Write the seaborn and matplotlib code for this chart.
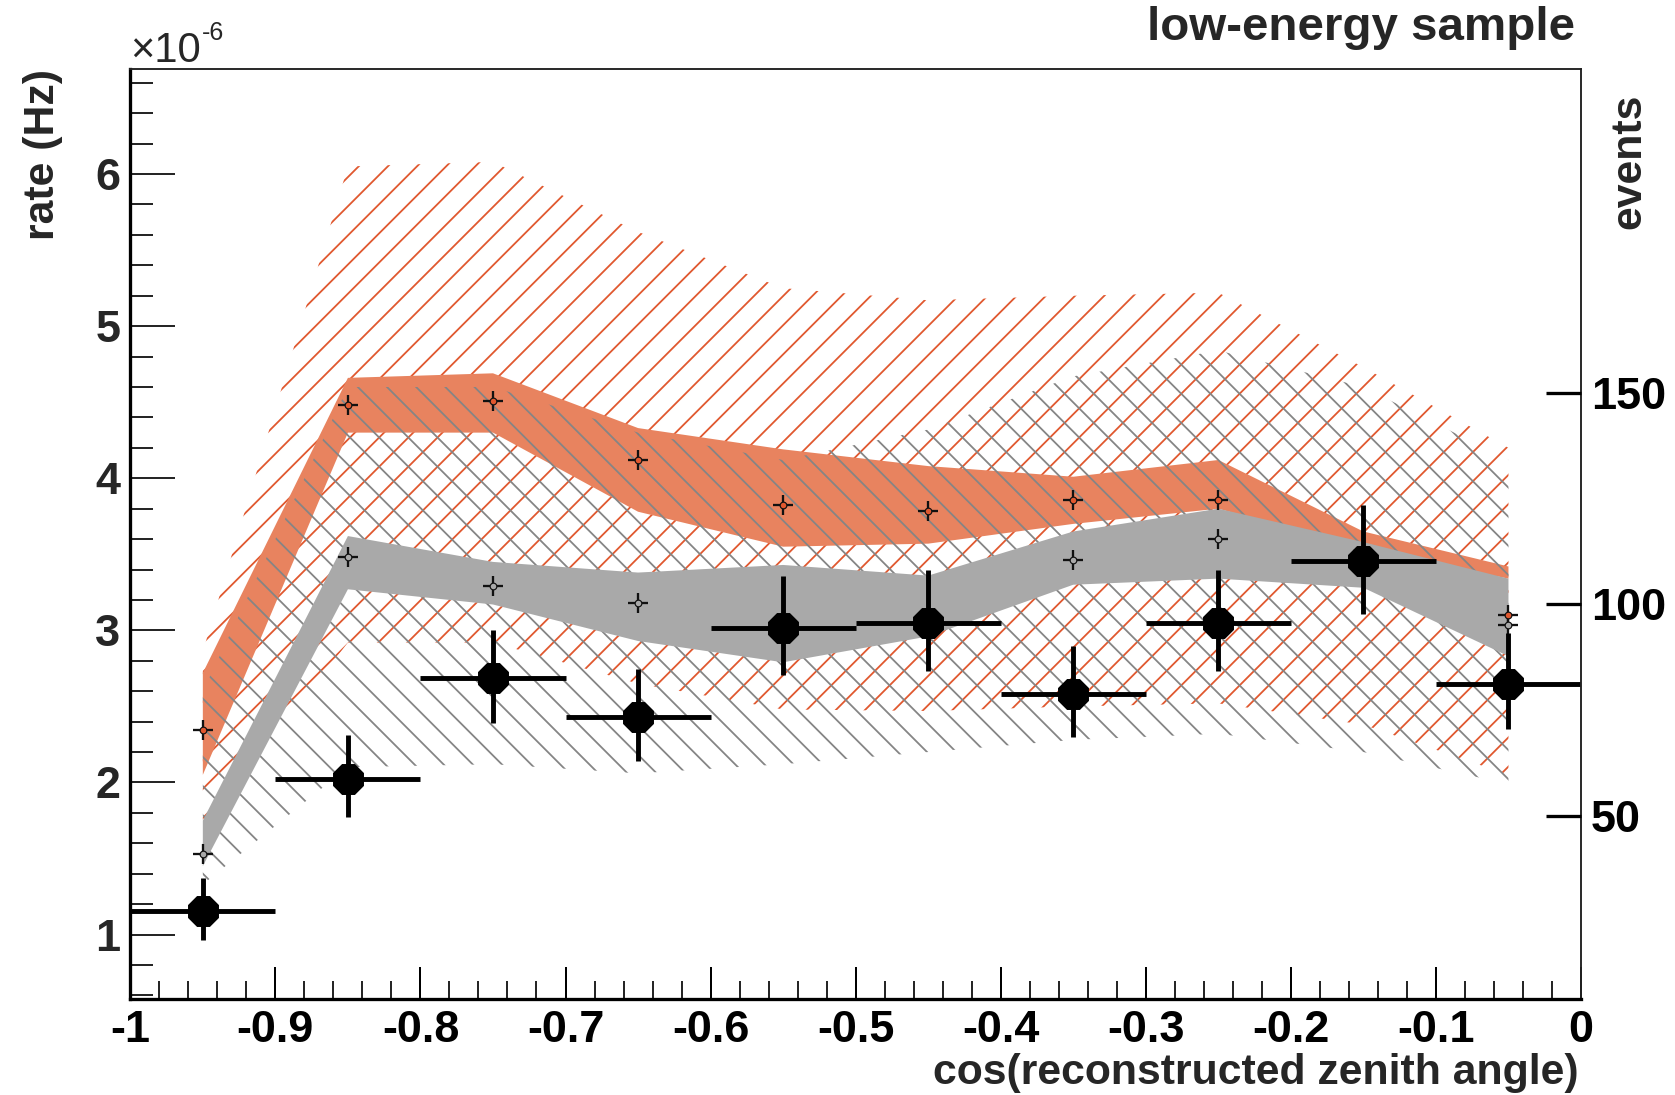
import numpy as np
import pandas as pd
import matplotlib
matplotlib.use("Agg")
import matplotlib.pyplot as plt
from matplotlib.ticker import MultipleLocator, FixedLocator
import seaborn as sns

# ---------------- data ----------------
bin_centers = [-0.95, -0.85, -0.75, -0.65, -0.55, -0.45, -0.35, -0.25, -0.15, -0.05]
bin_half_width = 0.05

# measured rate (units of 1e-6 Hz) with asymmetric errors
data_rate = [1.155, 2.025, 2.685, 2.433, 3.015, 3.05, 2.58, 3.05, 3.458, 2.65]
data_err_up = [0.215, 0.29, 0.315, 0.31, 0.34, 0.35, 0.315, 0.35, 0.365, 0.33]
data_err_dn = [0.19, 0.255, 0.295, 0.29, 0.31, 0.32, 0.28, 0.32, 0.35, 0.30]

# orange model: central values, inner (dense) band, outer (hatched) band
orange_mc = [2.348, 4.483, 4.511, 4.118, 3.823, 3.788, 3.858, 3.858, 3.52, 3.10]
orange_inner_hi = [2.72, 4.66, 4.69, 4.33, 4.19, 4.08, 4.01, 4.12, 3.65, 3.42]
orange_inner_lo = [2.05, 4.30, 4.30, 3.78, 3.55, 3.57, 3.70, 3.80, 3.53, 3.34]
orange_outer_hi = [2.86, 6.05, 6.08, 5.62, 5.25, 5.17, 5.20, 5.22, 4.73, 4.20]
orange_outer_lo = [1.70, 2.92, 2.92, 2.65, 2.48, 2.47, 2.50, 2.52, 2.38, 2.05]

# gray model
gray_mc = [1.527, 3.479, 3.289, 3.177, 3.05, 3.08, 3.465, 3.60, 3.43, 3.035]
gray_inner_hi = [1.75, 3.62, 3.45, 3.38, 3.43, 3.36, 3.65, 3.80, 3.58, 3.34]
gray_inner_lo = [1.45, 3.27, 3.17, 2.93, 2.79, 2.96, 3.30, 3.34, 3.28, 2.83]
gray_outer_hi = [2.60, 4.60, 4.60, 4.30, 4.12, 4.32, 4.67, 4.84, 4.60, 4.12]
gray_outer_lo = [1.33, 2.10, 2.12, 2.06, 2.12, 2.20, 2.28, 2.32, 2.20, 1.99]

# axes
x_range = [-1.0, 0.0]
y_range = [0.579, 6.688]
x_major_ticks = [-1.0, -0.9, -0.8, -0.7, -0.6, -0.5, -0.4, -0.3, -0.2, -0.1, 0.0]
x_tick_labels = ["-1", "-0.9", "-0.8", "-0.7", "-0.6", "-0.5", "-0.4", "-0.3", "-0.2", "-0.1", "0"]
y_major_ticks = [1, 2, 3, 4, 5, 6]
y_tick_labels = ["1", "2", "3", "4", "5", "6"]
event_ticks = [50, 100, 150]
event_tick_labels = ["50", "100", "150"]
rate_at_50_events = 1.78
rate_at_150_events = 4.563

# ---------------- style ----------------
ORANGE_LINE = "#E0582F"
ORANGE_FILL = "#E8835F"
GRAY_LINE = "#858585"
GRAY_FILL = "#A9A9A9"

DPI = 175
W, H = 1675, 1095


def P(px):
    """pixels -> points at the figure dpi"""
    return px * 72.0 / DPI


sns.set_style("ticks")
plt.rcParams["font.family"] = ["Liberation Sans", "DejaVu Sans"]
plt.rcParams["font.weight"] = "bold"
plt.rcParams["hatch.linewidth"] = P(1.8)

TICK_FS = P(45)
LABEL_FS = P(42.8)

fig = plt.figure(figsize=(W / DPI, H / DPI), dpi=DPI)
fig.patch.set_facecolor("white")
ax = fig.add_axes([130.3 / W, 1 - 998.6 / H, (1581 - 130.3) / W, (998.6 - 69.4) / H])
ax.set_facecolor("white")

df = pd.DataFrame({
    "x": bin_centers, "rate": data_rate,
    "up": data_err_up, "dn": data_err_dn,
    "orange_mc": orange_mc, "gray_mc": gray_mc,
})

# bands
ax.fill_between(bin_centers, orange_outer_lo, orange_outer_hi, facecolor="none",
                edgecolor=ORANGE_LINE, hatch="//", linewidth=0, zorder=1)
ax.fill_between(bin_centers, orange_inner_lo, orange_inner_hi, facecolor=ORANGE_FILL,
                edgecolor="none", linewidth=0, zorder=2)
ax.fill_between(bin_centers, gray_outer_lo, gray_outer_hi, facecolor="none",
                edgecolor=GRAY_LINE, hatch="\\\\", linewidth=0, zorder=3)
ax.fill_between(bin_centers, gray_inner_lo, gray_inner_hi, facecolor=GRAY_FILL,
                edgecolor="none", linewidth=0, zorder=4)

# model central values: small crosses
for col, fc in (("orange_mc", ORANGE_LINE), ("gray_mc", GRAY_FILL)):
    sns.scatterplot(data=df, x="x", y=col, marker="+", s=P(20.5) ** 2, color="#111111",
                    linewidth=P(2.3), ax=ax, zorder=5, legend=False)
    sns.scatterplot(data=df, x="x", y=col, marker="o", s=P(6.7) ** 2, color=fc,
                    edgecolor="#111111", linewidth=P(1.2), ax=ax, zorder=6, legend=False)

# data points with error bars
ax.errorbar(df["x"], df["rate"], xerr=bin_half_width, yerr=[df["dn"], df["up"]],
            fmt="none", ecolor="black", elinewidth=P(4.9), capsize=0, zorder=7)
sns.scatterplot(data=df, x="x", y="rate", marker="8", s=P(33.5) ** 2, color="black",
                edgecolor="black", linewidth=0, ax=ax, zorder=8, legend=False)

# axes, ticks
ax.set_xlim(*x_range)
ax.set_ylim(*y_range)
ax.set_xlabel("")
ax.set_ylabel("")
ax.xaxis.set_major_locator(FixedLocator(x_major_ticks))
ax.set_xticklabels(x_tick_labels)
ax.xaxis.set_minor_locator(MultipleLocator(0.02))
ax.yaxis.set_major_locator(FixedLocator(y_major_ticks))
ax.set_yticklabels(y_tick_labels)
ax.yaxis.set_minor_locator(MultipleLocator(0.2))

ax.tick_params(axis="x", which="major", direction="in", length=P(31.7), width=P(2),
               labelsize=TICK_FS, pad=P(11.7), bottom=True, top=False, colors="black")
ax.tick_params(axis="x", which="minor", direction="in", length=P(18.3), width=P(2),
               bottom=True, top=False)
ax.tick_params(axis="y", which="major", direction="in", length=P(45), width=P(2),
               labelsize=TICK_FS, pad=P(10), left=True, right=False)
ax.tick_params(axis="y", which="minor", direction="in", length=P(23.3), width=P(2),
               left=True, right=False)
for lab in ax.get_xticklabels() + ax.get_yticklabels():
    lab.set_fontweight("bold")

for side in ("left", "bottom"):
    ax.spines[side].set_linewidth(P(3.3))
    ax.spines[side].set_color("black")
for side in ("top", "right"):
    ax.spines[side].set_linewidth(P(1.9))
    ax.spines[side].set_color("#222222")
for s in ax.spines.values():
    s.set_zorder(10)

# right-hand "events" axis
slope = (event_ticks[2] - event_ticks[0]) / (rate_at_150_events - rate_at_50_events)


def to_events(r):
    return event_ticks[0] + (r - rate_at_50_events) * slope


ax2 = ax.twinx()
ax2.set_ylim(to_events(y_range[0]), to_events(y_range[1]))
ax2.yaxis.set_major_locator(FixedLocator(event_ticks))
ax2.set_yticklabels(event_tick_labels)
ax2.yaxis.set_minor_locator(FixedLocator([]))
ax2.tick_params(axis="y", which="major", direction="in", length=P(35), width=P(3.3),
                labelsize=TICK_FS, pad=P(10), right=True, left=False, colors="black")
for lab in ax2.get_yticklabels():
    lab.set_fontweight("bold")
for s in ax2.spines.values():
    s.set_visible(False)

# texts
fig.text(1579 / W, 1 - 1084 / H, "cos(reconstructed zenith angle)",
         ha="right", va="baseline", fontsize=LABEL_FS, fontweight="bold")
fig.text(42.7 / W, 1 - 69 / H, "rate (Hz)", rotation=90,
         ha="center", va="top", fontsize=LABEL_FS, fontweight="bold")
fig.text(1629 / W, 1 - 94 / H, "events", rotation=90,
         ha="center", va="top", fontsize=LABEL_FS, fontweight="bold")
fig.text(1575 / W, 1 - 39.5 / H, "low-energy sample",
         ha="right", va="baseline", fontsize=P(47.5), fontweight="bold")
fig.text(130 / W, 1 - 62 / H, "\u00d710", ha="left", va="baseline",
         fontsize=P(41.7), fontweight="normal")
fig.text(202 / W, 1 - 40 / H, "-6", ha="left", va="baseline",
         fontsize=P(25), fontweight="normal")

fig.savefig("out.png", dpi=DPI)
